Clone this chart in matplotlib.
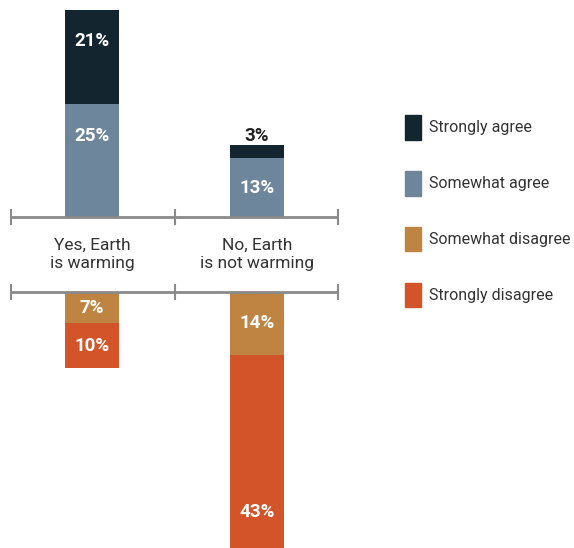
import matplotlib
matplotlib.use("Agg")
import matplotlib.pyplot as plt
from matplotlib.patches import Patch

plt.rcParams['font.family'] = ['Roboto', 'DejaVu Sans']

# data
categories = ["Yes, Earth\nis warming", "No, Earth\nis not warming"]
strongly_agree = [21, 3]
somewhat_agree = [25, 13]
somewhat_disagree = [7, 14]
strongly_disagree = [10, 43]
series_names = ["Strongly agree", "Somewhat agree", "Somewhat disagree", "Strongly disagree"]
colors = ["#13252f", "#6e869c", "#c08442", "#d25428"]

GAP = 16.7          # space between the two baselines, in percent units
axis_col = "#8a8a8a"

fig = plt.figure(figsize=(5.74, 5.48), dpi=100)
ax = fig.add_axes([0, 0, 1, 1])
ax.set_xlim(-0.558, 2.921)
ax.set_ylim(-73.6, 48.2)
ax.axis("off")

x = [0, 1]
w = 0.327

# agree bars go up from 0
ax.bar(x, somewhat_agree, w, color=colors[1])
ax.bar(x, strongly_agree, w, bottom=somewhat_agree, color=colors[0])
# disagree bars go down from -GAP
ax.bar(x, [-v for v in somewhat_disagree], w, bottom=-GAP, color=colors[2])
ax.bar(x, [-v for v in strongly_disagree], w,
       bottom=[-GAP - v for v in somewhat_disagree], color=colors[3])

lab = dict(ha="center", va="center", fontsize=13.5, fontweight="bold")
for i in range(2):
    # upper segments: label near the top of each segment
    top1 = somewhat_agree[i]
    ax.text(x[i], top1 - min(7, somewhat_agree[i] / 2), f"{somewhat_agree[i]}%", color="white", **lab)
    top2 = somewhat_agree[i] + strongly_agree[i]
    if strongly_agree[i] >= 6:
        ax.text(x[i], top2 - min(7, strongly_agree[i] / 2), f"{strongly_agree[i]}%", color="white", **lab)
    else:
        ax.text(x[i], top2 + 1.9, f"{strongly_agree[i]}%", color="#222222", **lab)
    # lower segments: label near the bottom of each segment
    b1 = -GAP - somewhat_disagree[i]
    ax.text(x[i], b1 + min(8, somewhat_disagree[i] / 2), f"{somewhat_disagree[i]}%", color="white", **lab)
    b2 = b1 - strongly_disagree[i]
    ax.text(x[i], b2 + min(8, strongly_disagree[i] / 2), f"{strongly_disagree[i]}%", color="white", **lab)

# the two baselines with ticks
for y0 in (0, -GAP):
    ax.plot([-0.49, 1.49], [y0, y0], color=axis_col, lw=2, zorder=3, solid_capstyle="butt")
    for xt in (-0.49, 0.5, 1.49):
        ax.plot([xt, xt], [y0 - 1.5, y0 + 1.5], color=axis_col, lw=1.5, zorder=3)

for i, c in enumerate(categories):
    ax.text(x[i], -GAP / 2, c, ha="center", va="center", fontsize=12.5,
            color="#333333", linespacing=1.2)

fs = 11.5
handles = [Patch(color=c, label=n) for c, n in zip(colors, series_names)]
ax.legend(handles=handles, loc="upper left", bbox_to_anchor=(0.705, 0.79),
          bbox_transform=fig.transFigure, frameon=False, fontsize=fs,
          handlelength=1.0, handleheight=2.0, labelspacing=1.95,
          handletextpad=0.55, borderaxespad=0, borderpad=0,
          labelcolor="#333333")

fig.savefig("out.png", dpi=100)
